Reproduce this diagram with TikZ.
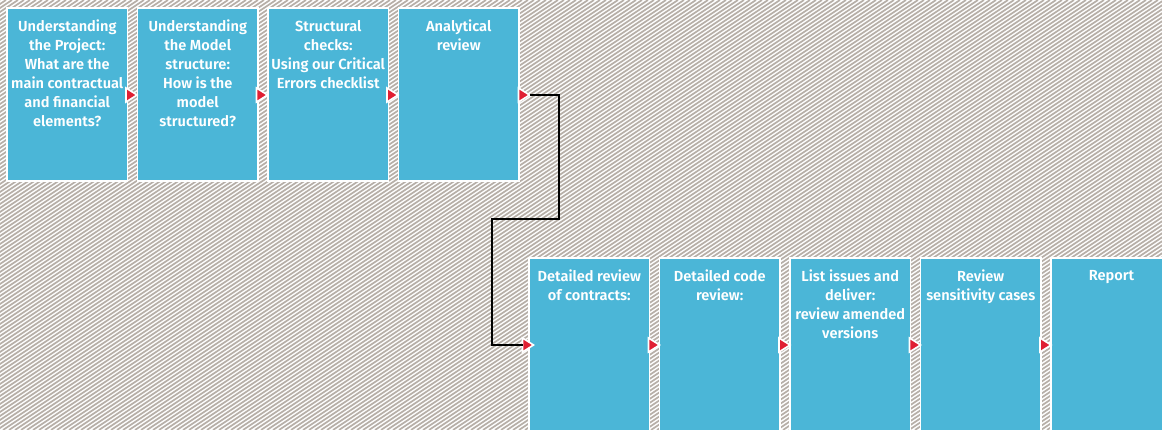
\documentclass[tikz,border=0pt]{standalone}
\usepackage{fontspec}
\setmainfont{Fira Sans}[UprightFont=* SemiBold, BoldFont=* Bold]
\definecolor{boxblue}{HTML}{4BB6D7}
\definecolor{hatchgrey}{HTML}{B7AFA8}
\definecolor{arrred}{HTML}{E01F33}
\tikzset{
  stepbox/.style={draw=white, line width=1.6pt, fill=boxblue, anchor=north west,
    minimum width=120.5pt, inner sep=0pt, outer sep=0pt},
  boxtext/.style={text=white, font=\fontsize{14.6}{19}\selectfont, align=center,
    anchor=north, inner sep=0pt},
  hatch/.style={draw=hatchgrey, line width=1.7pt},
  redtri/.style={fill=arrred, draw=white, line width=1.6pt, line join=miter},
  link/.style={draw=black, line width=1.2pt}
}
\newcommand\mytri[3]{% name, base x, y
  \path[redtri] (#2,#3-7) -- (#2+11,#3) -- (#2,#3+7) -- cycle;
  \coordinate (#1) at (#2+11,#3);
  \coordinate (#1b) at (#2,#3);
}
\begin{document}
\begin{tikzpicture}[x=1pt,y=-1pt]
\useasboundingbox (0,0) rectangle (1162,430);
\fill[white] (0,0) rectangle (1162,430);
\begin{scope}
\clip (0,0) rectangle (1162,430);
\foreach \k in {0,...,302} { \draw[hatch] ({\k*6},0) -- ({\k*6-645},430); }
\end{scope}
% top row
\node[stepbox, minimum height=173pt] (b1) at (7,8) {};
\node[stepbox, minimum height=173pt] (b2) at (137.5,8) {};
\node[stepbox, minimum height=173pt] (b3) at (268,8) {};
\node[stepbox, minimum height=173pt] (b4) at (398.5,8) {};
% bottom row
\node[stepbox, minimum height=190pt] (b5) at (529,258) {};
\node[stepbox, minimum height=190pt] (b6) at (659.5,258) {};
\node[stepbox, minimum height=190pt] (b7) at (790,258) {};
\node[stepbox, minimum height=190pt] (b8) at (920.5,258) {};
\node[stepbox, minimum height=190pt, minimum width=125pt] (b9) at (1051,258) {};
% texts
\node[boxtext] (t1) at ([yshift=-12pt]b1.north) {Understanding\\the Project:\\What are the\\main contractual\\and financial\\elements?};
\node[boxtext] (t2) at ([yshift=-12pt]b2.north) {Understanding\\the Model\\structure:\\How is the\\model\\structured?};
\node[boxtext] (t3) at ([yshift=-12pt]b3.north) {Structural\\checks:\\Using our Critical\\Errors checklist};
\node[boxtext] (t4) at ([yshift=-12pt]b4.north) {Analytical\\review};
\node[boxtext] (t5) at ([yshift=-12pt]b5.north) {Detailed review\\of contracts:};
\node[boxtext] (t6) at ([yshift=-12pt]b6.north) {Detailed code\\review:};
\node[boxtext] (t7) at ([yshift=-12pt]b7.north) {List issues and\\deliver:\\review amended\\versions};
\node[boxtext] (t8) at ([yshift=-12pt]b8.north) {Review\\sensitivity cases};
\node[boxtext] (t9) at ([yshift=-12pt,xshift=-2pt]b9.north) {Report};
% arrows
\mytri{a1}{126}{95}
\mytri{a2}{256.5}{95}
\mytri{a3}{387}{95}
\mytri{a4}{518.5}{95}
\mytri{a5}{522.5}{345}
\mytri{a6}{648.5}{345}
\mytri{a7}{779}{345}
\mytri{a8}{909.5}{345}
\mytri{a9}{1040}{345}
\coordinate (c1) at (559,219);
\coordinate (c2) at (492,219);
\draw[link] (a4) -| (c1) -- (c2) |- (a5b);
\end{tikzpicture}
\end{document}
